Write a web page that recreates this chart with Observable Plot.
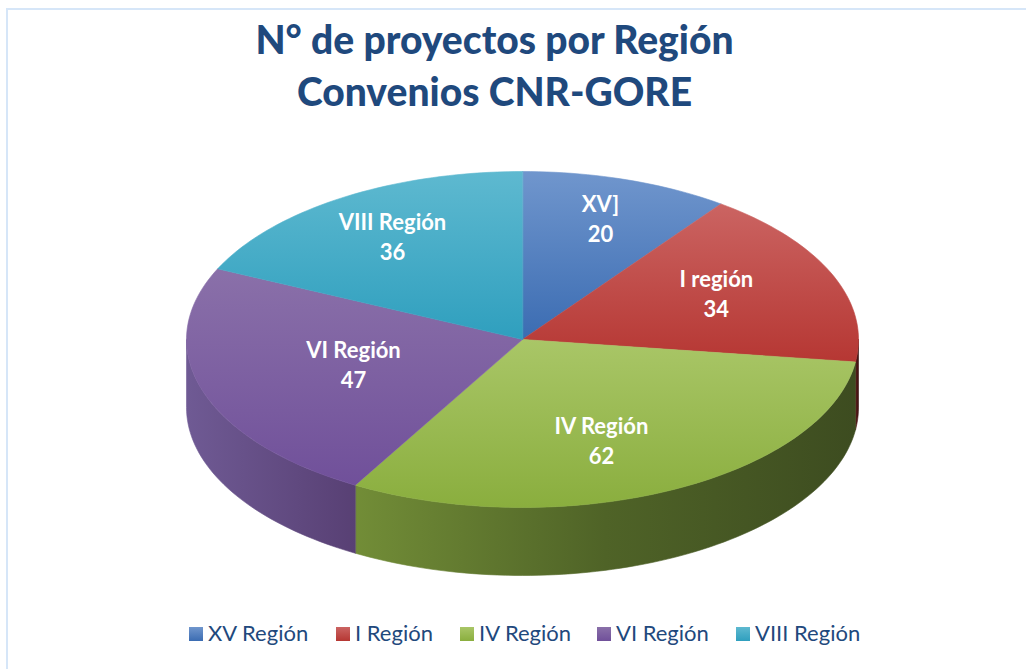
<!DOCTYPE html>
<html lang="es">
<head>
<meta charset="utf-8">
<script src="https://cdn.jsdelivr.net/npm/d3@7"></script>
<script src="https://cdn.jsdelivr.net/npm/@observablehq/plot@0.6"></script>
<style>
  html, body { margin: 0; padding: 0; background: #fff; }
  #page { position: relative; width: 1026px; height: 669px; overflow: hidden; font-family: Lato, sans-serif; }
  #frame { position: absolute; left: 6px; top: 8px; width: 1030px; height: 680px; border: 2px solid #d6e6f8; box-sizing: border-box; }
  #title { position: absolute; left: 0; top: 13px; width: 989px; text-align: center; color: #1f497d; font-weight: 900; font-size: 39px; line-height: 52px; margin: 0; }
  #chart { position: absolute; left: 0; top: 125px; }
  #legend { position: absolute; left: 0; top: 619px; width: 1026px; height: 28px; color: #1f497d; font-size: 22px; line-height: 28px; }
  #legend span.item { position: absolute; top: 0; white-space: nowrap; }
  #legend i { position: absolute; left: 0; top: 8px; width: 14px; height: 14px; }
  #legend b { font-weight: 400; margin-left: 19px; }
</style>
</head>
<body>
<div id="page">
  <div id="frame"></div>
  <h1 id="title">N° de proyectos por Región<br>Convenios CNR-GORE</h1>
  <div id="chart"></div>
  <div id="legend"></div>
</div>
<script>
// Data
const legendNames = ["XV Región", "I Región", "IV Región", "VI Región", "VIII Región"];
const sliceLabels = ["XV]", "I región", "IV Región", "VI Región", "VIII Región"];
const projects = [20, 34, 62, 47, 36];

// Styles and layout (kept apart from the values)
const topColors = [["#7096cd", "#3b6cb2"], ["#cb6462", "#b63733"], ["#a9c667", "#8aae3e"], ["#8a70a9", "#70509a"], ["#5eb9d0", "#2f9fbe"]];
const sideColors = [["#2f5488", "#2f5488"], ["#5a1b1a", "#3d1211"], ["#728d37", "#4f6327", "#3d4c20"], ["#6f5a94", "#584074"], ["#1f6f85", "#1f6f85"]];
const legendLeft = [189, 336, 460, 597, 736];
const labelX = [0.232, 0.577, 0.235, -0.503, -0.387];
const labelY = [0.726, 0.28, -0.595, -0.143, 0.619];
const depth = 0.405;

const total = d3.sum(projects);
const cumulative = d3.cumsum(projects);
const angleOf = v => (v / total) * 2 * Math.PI;
const rim = (a, yShift = 0) => ({x: Math.sin(a), y: Math.cos(a) + yShift});
const arcSteps = (a0, a1) => d3.range(0, 1.0001, 1 / Math.max(2, Math.ceil((a1 - a0) * 40))).map(t => a0 + (a1 - a0) * t);

const slices = projects.map((v, i) => {
  const a1 = angleOf(cumulative[i]);
  const a0 = a1 - angleOf(v);
  return {i, a0, a1};
});

const topPolygons = slices.map(({a0, a1}) => [{x: 0, y: 0}, ...arcSteps(a0, a1).map(a => rim(a))]);
const sidePolygons = slices.map(({a0, a1}) => {
  const lo = Math.max(a0, Math.PI / 2), hi = Math.min(a1, 3 * Math.PI / 2);
  if (hi <= lo) return [];
  const steps = arcSteps(lo, hi);
  return [...steps.map(a => rim(a)), ...steps.slice().reverse().map(a => rim(a, -depth))];
});

const labels = sliceLabels.map((name, i) => ({text: `${name}\n${projects[i]}`, x: labelX[i], y: labelY[i]}));

function gradients() {
  const defs = d3.create("svg:defs");
  const add = (id, stops, x2, y2) => {
    const g = defs.append("linearGradient").attr("id", id).attr("x1", 0).attr("y1", 0).attr("x2", x2).attr("y2", y2);
    stops.forEach((c, k) => g.append("stop").attr("offset", `${100 * k / (stops.length - 1)}%`).attr("stop-color", c));
  };
  topColors.forEach((c, i) => add(`top${i}`, c, 0, 1));
  sideColors.forEach((c, i) => add(`side${i}`, c, 1, 0));
  return defs.node();
}

const polygonMark = (pts, fill) => Plot.line(pts, {x: "x", y: "y", fill, stroke: fill, strokeWidth: 0.6, curve: "linear-closed"});

const chart = Plot.plot({
  width: 1026,
  height: 470,
  margin: 0,
  style: {background: "transparent"},
  x: {domain: [-1, 1], range: [186, 858], axis: null},
  y: {domain: [1, -1 - depth], range: [46, 450], axis: null},
  marks: [
    gradients,
    ...sidePolygons.map((pts, i) => pts.length ? polygonMark(pts, `url(#side${i})`) : null),
    ...topPolygons.map((pts, i) => polygonMark(pts, `url(#top${i})`)),
    Plot.text(labels, {
      x: "x", y: "y", text: "text", fill: "white", fontSize: 22, fontWeight: 700,
      fontFamily: "Lato, sans-serif", lineHeight: 1.36, textAnchor: "middle"
    })
  ]
});
document.getElementById("chart").appendChild(chart);

const legend = d3.select("#legend");
legendNames.forEach((name, i) => {
  const item = legend.append("span").attr("class", "item").style("left", legendLeft[i] + "px");
  item.append("i").style("background", `linear-gradient(${topColors[i][0]}, ${topColors[i][1]})`);
  item.append("b").text(name);
});
</script>
</body>
</html>
